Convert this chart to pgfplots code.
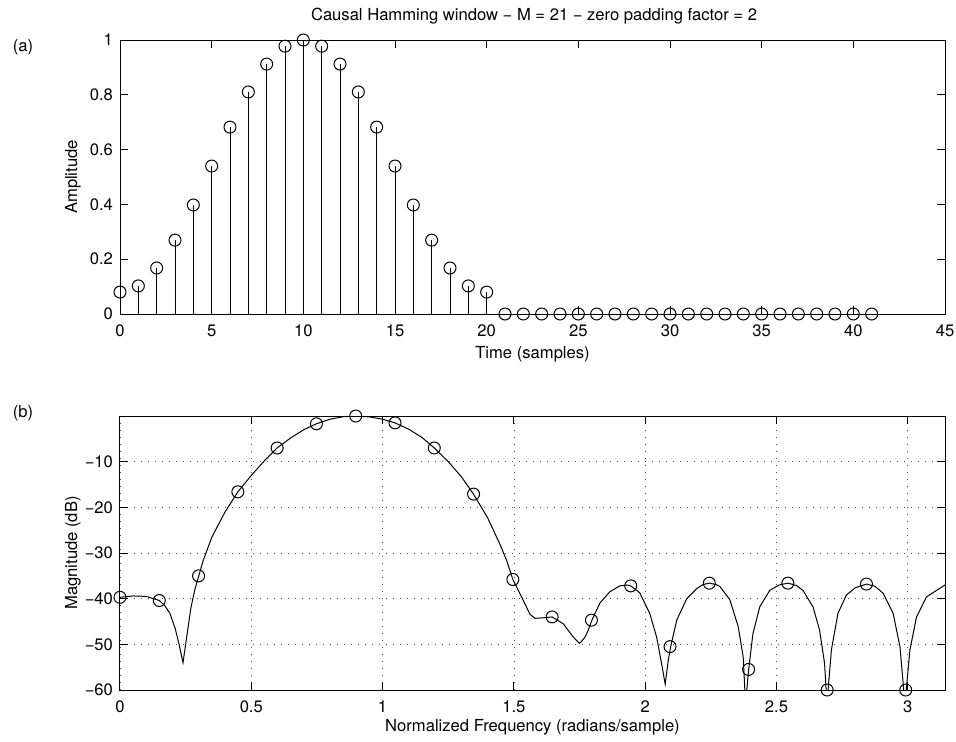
\documentclass[border=0pt]{standalone}
\usepackage{fontspec}
\setmainfont{TeX Gyre Heros}
\usepackage{pgfplots}
\pgfplotsset{compat=1.18}

\pgfplotsset{
  mstyle/.style={
    scale only axis, width=412.5pt, height=137pt,
    axis line style={line width=0.5pt},
    tick align=inside, major tick length=4pt,
    tick style={black, line width=0.5pt},
    tick label style={font=\fontsize{8.3}{10}\selectfont},
    label style={font=\fontsize{8.3}{10}\selectfont},
    xticklabel style={yshift=-2pt},
    /pgf/number format/assume math mode=true,
  }
}

\begin{document}
\begin{tikzpicture}
\useasboundingbox (-60pt,-213.5pt) rectangle (418pt,157pt);

% (a) zero padded window
\begin{axis}[mstyle, at={(0,0)}, anchor=south west,
  xmin=0, xmax=45, ymin=0, ymax=1,
  xtick={0,5,...,45},
  ytick={0,0.2,0.4,0.6,0.8,1},
  yticklabels={0,0.2,0.4,0.6,0.8,1},
  xlabel={Time (samples)}, ylabel={Amplitude},
  xlabel style={at={(axis description cs:0.5,-0.146)}, anchor=center},
  ylabel style={at={(axis description cs:-0.057,0.5)}, anchor=center},
  clip=false]
\addplot[black, line width=0.5pt, ycomb, mark=o, mark size=3pt,
  mark options={line width=0.5pt}] coordinates {
  (0,0.08) (1,0.1025) (2,0.1679) (3,0.2696) (4,0.3979) (5,0.54)
  (6,0.6821) (7,0.8104) (8,0.9121) (9,0.9775) (10,1) (11,0.9775)
  (12,0.9121) (13,0.8104) (14,0.6821) (15,0.54) (16,0.3979) (17,0.2696)
  (18,0.1679) (19,0.1025) (20,0.08)
  (21,0) (22,0) (23,0) (24,0) (25,0) (26,0) (27,0) (28,0) (29,0) (30,0) (31,0)
  (32,0) (33,0) (34,0) (35,0) (36,0) (37,0) (38,0) (39,0) (40,0) (41,0)};
\end{axis}

% (b) magnitude response
\begin{axis}[mstyle, at={(0,-188pt)}, anchor=south west,
  xmin=0, xmax=3.14159, ymin=-60, ymax=0,
  xtick={0,0.5,1,1.5,2,2.5,3},
  xticklabels={0,0.5,1,1.5,2,2.5,3},
  ytick={-60,-50,-40,-30,-20,-10},
  yticklabels={−60,−50,−40,−30,−20,−10},
  grid=major,
  major grid style={black!70, line width=0.4pt, dash pattern=on 0.6pt off 2.9pt},
  xlabel={Normalized Frequency (radians/sample)}, ylabel={Magnitude (dB)},
  xlabel style={at={(axis description cs:0.5,-0.135)}, anchor=center},
  ylabel style={at={(axis description cs:-0.057,0.5)}, anchor=center}]
\addplot[black, line width=0.5pt, mark=none] coordinates {
  (0.000,-39.7) (0.050,-39.4) (0.100,-39.5) (0.150,-40.4) (0.170,-41.5)
  (0.190,-43.2) (0.210,-46.5) (0.225,-50.0) (0.240,-54.0) (0.255,-48.0)
  (0.270,-42.0) (0.285,-38.0) (0.300,-35.0) (0.317,-31.6) (0.350,-26.5)
  (0.400,-21.0) (0.449,-16.6) (0.500,-13.0) (0.550,-9.8) (0.598,-7.0)
  (0.650,-4.8) (0.700,-3.0) (0.748,-1.7) (0.800,-0.7) (0.850,-0.15)
  (0.898,0) (0.950,-0.2) (1.000,-0.7) (1.047,-1.5) (1.100,-2.9)
  (1.150,-4.7) (1.197,-7.0) (1.250,-10.0) (1.300,-13.3) (1.346,-17.1)
  (1.400,-22.3) (1.450,-28.5) (1.472,-31.6) (1.496,-35.8) (1.535,-40.3)
  (1.561,-43.4) (1.580,-44.3) (1.610,-44.2) (1.646,-44.0) (1.688,-45.5)
  (1.726,-48.4) (1.750,-49.8) (1.770,-48.5) (1.783,-46.9) (1.797,-44.7)
  (1.827,-41.0) (1.865,-38.5) (1.903,-37.2) (1.930,-37.0) (1.945,-37.2)
  (1.979,-38.7) (2.017,-43.2) (2.043,-48.3) (2.062,-54.1) (2.076,-58.7)
  (2.088,-53.4) (2.097,-50.5) (2.120,-44.7) (2.158,-40.0) (2.196,-37.8)
  (2.220,-36.9) (2.244,-36.6) (2.270,-36.9) (2.284,-37.3) (2.322,-40.2)
  (2.354,-46.1) (2.373,-52.7) (2.382,-63) (2.394,-55.5) (2.410,-47.7)
  (2.436,-41.8) (2.474,-38.2) (2.510,-37.0) (2.544,-36.6) (2.575,-37.1)
  (2.601,-38.2) (2.639,-41.8) (2.664,-46.9) (2.683,-54.2) (2.692,-63)
  (2.709,-51.2) (2.734,-43.2) (2.766,-39.2) (2.800,-37.6) (2.843,-36.8)
  (2.875,-37.3) (2.906,-38.8) (2.944,-43.2) (2.970,-50.5) (2.989,-63)
  (3.008,-51.2) (3.033,-44.0) (3.071,-39.6) (3.1416,-37.0)};
\addplot[black, only marks, mark=o, mark size=3pt, mark options={line width=0.5pt}]
  coordinates {
  (0,-39.7) (0.1496,-40.4) (0.2992,-35.0) (0.4488,-16.6) (0.5984,-7.0)
  (0.7480,-1.7) (0.8976,0) (1.0472,-1.5) (1.1968,-7.0) (1.3464,-17.1)
  (1.4960,-35.8) (1.6456,-44.0) (1.7952,-44.7) (1.9448,-37.2) (2.0944,-50.5)
  (2.2440,-36.6) (2.3936,-55.5) (2.5432,-36.6) (2.6928,-60) (2.8424,-36.8)
  (2.9920,-60)};
\end{axis}

% title and panel letters
\node[font=\fontsize{8.3}{10}\selectfont] at (207pt,149pt)
  {Causal Hamming window − M = 21 − zero padding factor = 2};
\node[font=\fontsize{8.3}{10}\selectfont] at (-48.5pt,133.5pt) {(a)};
\node[font=\fontsize{8.3}{10}\selectfont] at (-48.5pt,-49.5pt) {(b)};
\end{tikzpicture}
\end{document}
